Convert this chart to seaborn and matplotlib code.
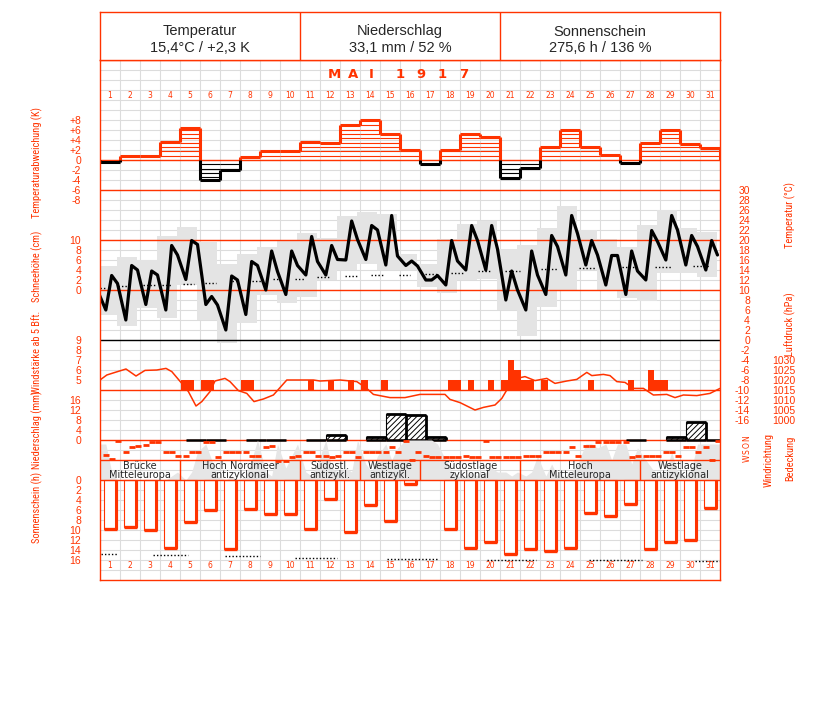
import numpy as np
import pandas as pd
import matplotlib
matplotlib.use('Agg')
import matplotlib.pyplot as plt
from matplotlib import font_manager
import seaborn as sns

sns.set_style('white')
plt.rcParams['font.family'] = ['Liberation Sans', 'DejaVu Sans']
plt.rcParams['hatch.linewidth'] = 0.7

RED = '#ff3300'
GRID = '#dcdcdc'
SHADE = '#e4e4e4'

days = np.arange(1, 32)

header_title = ['Temperatur', 'Niederschlag', 'Sonnenschein']
header_value = ['15,4°C / +2,3 K', '33,1 mm / 52 %', '275,6 h / 136 %']
month_label = 'MAI 1917'

# Tagesabweichung der Temperatur (K)
temp_anom = [-0.4, 0.8, 0.8, 3.6, 6.4, -4.0, -2.0, 0.6, 1.8, 1.8, 3.6, 3.4, 7.0, 8.0, 5.2, 2.0,
             -0.8, 2.0, 5.2, 4.6, -3.6, -1.6, 2.6, 6.0, 2.6, 1.0, -0.6, 3.4, 6.0, 3.2, 2.4]

# Terminwerte der Temperatur 7, 14, 21 Uhr (°C)
temp_prev = 9.9
temp_7 = [6.0, 4.0, 7.1, 6.0, 12.1, 7.1, 2.0, 5.1, 10.0, 9.1, 13.0, 13.0, 16.0, 16.1, 15.0, 14.9,
          12.0, 11.0, 14.0, 14.0, 8.0, 6.0, 9.1, 13.0, 15.0, 11.0, 9.1, 12.0, 16.0, 15.0, 14.0]
temp_14 = [12.9, 14.9, 13.8, 18.9, 19.9, 8.7, 12.8, 15.7, 17.8, 17.8, 20.7, 18.9, 23.8, 22.9, 24.9, 15.8,
           12.0, 19.9, 22.9, 22.9, 13.8, 17.8, 20.9, 24.9, 19.9, 16.9, 17.8, 21.9, 24.9, 20.9, 19.9]
temp_21 = [11.3, 14.0, 13.0, 17.0, 19.1, 7.0, 12.0, 14.9, 13.7, 14.9, 15.7, 16.1, 20.1, 22.0, 16.8, 14.8,
           12.9, 15.8, 19.9, 18.2, 10.0, 13.0, 18.7, 21.3, 17.0, 16.9, 13.8, 19.7, 22.0, 18.7, 17.0]
temp_max = [14.8, 16.7, 16.0, 20.8, 22.7, 19.7, 15.3, 17.3, 18.7, 19.8, 21.3, 20.5, 24.9, 25.7, 25.3, 17.3,
            15.2, 20.3, 23.3, 23.8, 18.3, 19.1, 22.5, 26.8, 22.0, 20.3, 18.7, 23.0, 26.0, 22.5, 21.7]
temp_min = [5.1, 2.9, 6.5, 4.5, 11.0, 4.0, -0.5, 3.4, 9.0, 7.5, 8.7, 12.0, 14.0, 15.3, 14.0, 14.0,
            10.7, 9.5, 12.0, 12.3, 6.0, 0.9, 6.7, 10.0, 14.0, 10.0, 8.5, 7.8, 13.5, 13.5, 12.7]

# Normalwerte (punktiert), Tag von/bis
norm_start = [0.0, 0.9, 2.15, 3.1, 4.15, 5.25, 6.6, 7.6, 8.65, 9.75, 10.85, 12.25, 13.55, 14.95, 16.25,
              17.55, 18.9, 20.25, 22.05, 23.95, 26.1, 27.75, 29.65]
norm_end = [0.3, 1.4, 2.75, 3.6, 4.7, 5.8, 6.85, 8.15, 8.9, 10.2, 11.5, 12.85, 14.2, 15.5, 16.9,
            18.2, 19.5, 21.0, 22.9, 24.8, 26.75, 28.6, 30.5]
norm_val = [10.5, 10.8, 11.0, 11.1, 11.3, 11.5, 11.8, 11.9, 12.2, 12.3, 12.6, 12.8, 13.0, 13.1, 13.3,
            13.5, 13.8, 13.9, 14.2, 14.4, 14.6, 14.7, 14.9]

# Luftdruck (hPa)
press_t = [0.0, 0.34, 0.75, 1.3, 1.8, 2.25, 2.84, 3.3, 3.59, 4.09, 4.42, 4.8, 5.09, 5.5, 5.75, 6.25,
           6.5, 6.92, 7.34, 7.7, 8.17, 8.67, 9.34, 10.67, 11.0, 12.0, 12.84, 13.34, 13.67, 14.5, 15.25,
           16.0, 17.25, 17.5, 18.0, 18.75, 19.17, 19.75, 20.09, 20.34, 20.84, 21.25, 21.75, 22.34,
           22.75, 23.34, 23.84, 24.34, 24.59, 25.17, 25.5, 25.84, 26.25, 26.67, 27.17, 27.67, 28.34,
           28.75, 29.17, 29.84, 30.5, 31.0]
press_hpa = [1020.0, 1022.5, 1023.8, 1025.5, 1022.0, 1024.8, 1025.0, 1025.8, 1024.2, 1018.3, 1014.2,
             1007.0, 1009.2, 1014.2, 1019.5, 1020.8, 1019.2, 1014.7, 1013.3, 1009.2, 1010.5, 1012.5,
             1020.0, 1020.0, 1019.5, 1020.0, 1019.2, 1015.8, 1012.8, 1011.2, 1011.2, 1012.8, 1012.8,
             1010.3, 1008.7, 1005.0, 1006.3, 1007.5, 1010.8, 1015.0, 1020.8, 1021.7, 1019.7, 1020.8,
             1018.3, 1019.5, 1020.3, 1023.8, 1022.2, 1022.8, 1022.2, 1019.2, 1018.8, 1015.8, 1015.8,
             1012.5, 1012.8, 1011.2, 1012.5, 1012.2, 1013.3, 1015.8]

# Windstärke ab 5 Bft (Tag, Termin 0/1/2, Bft)
wind_day = [5, 5, 6, 6, 8, 8, 11, 12, 13, 14, 15, 18, 18, 19, 20, 21, 21, 21, 22, 22, 23, 25, 27, 28, 28, 29]
wind_obs = [0, 1, 0, 1, 0, 1, 1, 1, 1, 0, 0, 1, 2, 1, 1, 0, 1, 2, 0, 1, 0, 1, 1, 1, 2, 0]
wind_bft = [5, 5, 5, 5, 5, 5, 5, 5, 5, 5, 5, 5, 5, 5, 5, 5, 7, 6, 5, 5, 5, 5, 5, 6, 5, 5]

# Niederschlag (mm), nan = kein, 0.0 = Spur
precip_mm = [np.nan, np.nan, np.nan, np.nan, 0.0, 0.0, np.nan, 0.0, 0.0, np.nan, 0.0, 2.1, np.nan, 1.2,
             10.2, 10.0, 1.1, np.nan, np.nan, np.nan, np.nan, np.nan, np.nan, np.nan, np.nan, np.nan,
             0.0, np.nan, 1.3, 7.2, 0.0]

# Windrichtung (Grad) 7, 14, 21 Uhr
wdir_7 = [247.5, 202.5, 67.5, 202.5, 270, 22.5, 202.5, 202.5, 112.5, 360, 202.5, 270, 202.5, 202.5, 202.5, 0,
          270, 292.5, 270, 0, 292.5, 270, 202.5, 202.5, 90, 22.5, 22.5, 270, 202.5, 112.5, 112.5]
wdir_14 = [315, 112.5, 22.5, 202.5, 202.5, 22.5, 202.5, 270, 90, 292.5, 202.5, 292.5, 202.5, 202.5, 112.5, 337.5,
           292.5, 292.5, 292.5, 292.5, 292.5, 270, 202.5, 112.5, 90, 22.5, 292.5, 270, 202.5, 112.5, 337.5]
wdir_21 = [0, 90, 22.5, 270, 202.5, 292.5, 202.5, 270, 360, 270, 270, 270, 292.5, 202.5, 202.5, 202.5,
           292.5, 292.5, 292.5, 292.5, 292.5, 270, 202.5, 270, 22.5, 22.5, 270, 270, 270, 202.5, 0]

# Bedeckung (Zehntel) 7, 14, 21 Uhr
cloud_7 = [9, 0, 0, 0, 0, 9, 0, 1, 2, 3, 2, 10, 3, 4, 9, 10, 10, 5, 1, 2, 2, 1, 1, 1, 9, 9, 9, 5, 2, 1, 9]
cloud_14 = [2, 0, 0, 1, 2, 5, 1, 5, 1, 6, 1, 3, 2, 2, 5, 10, 10, 2, 2, 3, 1, 2, 4, 2, 9, 5, 4, 3, 7, 3, 9]
cloud_21 = [0, 0, 0, 2, 7, 1, 0, 10, 9, 9, 4, 2, 10, 6, 8, 10, 9, 1, 1, 2, 2, 6, 1, 4, 8, 9, 8, 1, 2, 9, 9]

# Sonnenschein (h) und astronomisch mögliche Dauer (punktiert)
sun_h = [9.7, 9.3, 9.9, 13.5, 8.3, 6.0, 13.7, 5.7, 6.7, 6.7, 9.7, 3.7, 10.3, 5.0, 8.1, 0.7,
         0.0, 9.7, 13.5, 12.3, 14.7, 13.8, 14.1, 13.5, 6.5, 7.1, 4.7, 13.7, 12.3, 12.0, 5.5]
sunpos_start = [0.05, 2.65, 6.25, 9.75, 14.35, 19.35, 24.45, 29.75]
sunpos_end = [0.9, 4.4, 8.0, 11.85, 16.85, 21.8, 27.1, 31.0]
sunpos_h = [14.8, 15.0, 15.2, 15.5, 15.7, 15.9, 16.0, 16.1]

# Großwetterlagen
wx_start = [0, 4, 10, 13, 16, 21, 27]
wx_end = [4, 10, 13, 16, 21, 27, 31]
wx_label = ['Brücke\nMitteleuropa', 'Hoch Nordmeer\nantizyklonal', 'Südostl.\nantizykl.',
            'Westlage\nantizykl.', 'Südostlage\nzyklonal', 'Hoch\nMitteleuropa', 'Westlage\nantizyklonal']

left_labels = ['Temperaturabweichung (K)', 'Schneehöhe (cm)', 'Windstärke ab 5 Bft.',
               'Niederschlag (mm)', 'Sonnenschein (h)']
right_labels = ['Temperatur (°C)', 'Luftdruck (hPa)', 'Windrichtung', 'Bedeckung']

# a condensed face for the rotated axis titles, if one is installed
installed = {f.name for f in font_manager.fontManager.ttflist}
narrow_fam = next((n for n in ['Liberation Sans Narrow', 'DejaVu Sans Condensed', 'Roboto Condensed',
                               'Open Sans Condensed', 'Noto Sans Condensed'] if n in installed), None)
if narrow_fam:
    title_font = dict(family=[narrow_fam, 'DejaVu Sans'], fontsize=7.5)
else:
    title_font = dict(family=['Liberation Sans', 'DejaVu Sans'], fontsize=6)

W, H = 827, 702
fig = plt.figure(figsize=(W / 100, H / 100), dpi=100)


def rect(x0, y0, x1, y1):
    return [x0 / W, 1 - y1 / H, (x1 - x0) / W, (y1 - y0) / H]


def overlay(scale):
    # every panel shares the same pixel box; scale maps pixel row -> value
    ax = fig.add_axes(rect(100, 60, 720, 580))
    ax.set_xlim(0, 31)
    ax.set_ylim(scale(580), scale(60))
    ax.patch.set_visible(False)
    for s in ax.spines.values():
        s.set_visible(False)
    ax.set_xticks([])
    ax.set_yticks([])
    ax.tick_params(axis='y', length=0, labelsize=7.5, labelcolor=RED, pad=13.5)
    return ax


def right_ticks(ax, ticks, labels, pad):
    ax.yaxis.tick_right()
    ax.set_yticks(ticks, labels=labels, ha='right')
    ax.tick_params(axis='y', length=0, labelsize=7.5, labelcolor=RED, pad=pad)


obs = np.array([7, 14, 21]) / 24

# grid
bg = overlay(lambda y: y)
bg.vlines(np.arange(1, 31), 60, 580, color=GRID, lw=0.8)
bg.hlines(np.arange(70, 580, 10), 0, 31, color=GRID, lw=0.8)

# temperature anomaly
ta = overlay(lambda y: (160 - y) / 5)
ta.axhline(0, color=RED, lw=1)
ta.axhline(-6, color=RED, lw=1)
step = 0.87
for i, v in enumerate(temp_anom):
    c = RED if v >= 0 else 'black'
    lev = np.arange(step, abs(v) - 0.2, step) * np.sign(v)
    ta.hlines(lev, i, i + 1, color=c, lw=0.8)
    ta.hlines(v, i, i + 1, color=c, lw=2.2)
bounds = [0.0] + temp_anom + [0.0]
for i in range(32):
    lo, hi = sorted((bounds[i], bounds[i + 1]))
    if hi > 0:
        ta.vlines(i, max(lo, 0), hi, color=RED, lw=2.2)
    if lo < 0:
        ta.vlines(i, lo, min(hi, 0), color='black', lw=2.2)
ta.set_yticks(np.arange(8, -9, -2), labels=['+8', '+6', '+4', '+2', '0', '-2', '-4', '-6', '-8'])

# temperature
tp = overlay(lambda y: (340 - y) / 5)
tmin = np.array(temp_min)
tmax = np.array(temp_max)
tp.bar(days - 1 - 1 / 6, tmax - tmin, bottom=tmin, width=1, align='edge', color=SHADE, lw=0)
tp.axhline(20, color=RED, lw=1)
tp.axhline(10, color=RED, lw=1)
tp.axhline(0, color='black', lw=1)
tp.hlines(norm_val, norm_start, norm_end, colors='black', linestyles=(0, (1, 1.5)), lw=1)
tdf = pd.DataFrame({
    't': np.concatenate([[-3 / 24], (days[:, None] - 1 + obs).ravel()]),
    'temp': np.concatenate([[temp_prev], np.column_stack([temp_7, temp_14, temp_21]).ravel()]),
})
sns.lineplot(data=tdf, x='t', y='temp', ax=tp, color='black', lw=2.3, sort=False)
tp.set_xlabel('')
tp.set_ylabel('')
tp.set_xlim(0, 31)
right_ticks(tp, np.arange(30, -17, -2), [str(v) for v in range(30, -17, -2)], 21.6)

# snow depth (ticks only)
sn = overlay(lambda y: (290 - y) / 5)
sn.set_yticks(np.arange(10, -1, -2), labels=[str(v) for v in range(10, -1, -2)])

# air pressure
pr = overlay(lambda y: 1015 + (390 - y) / 2)
pdf = pd.DataFrame({'t': press_t, 'p': press_hpa})
sns.lineplot(data=pdf, x='t', y='p', ax=pr, color=RED, lw=1.1)
pr.set_xlabel('')
pr.set_ylabel('')
pr.set_xlim(0, 31)
right_ticks(pr, np.arange(1030, 999, -5), [str(v) for v in range(1030, 999, -5)], 54)

# wind force
wn = overlay(lambda y: 4 + (390 - y) / 10)
wleft = np.array(wind_day) - 1 + np.array([0.05, 0.383, 0.717])[wind_obs]
wn.bar(wleft, np.array(wind_bft) - 4, bottom=4, width=1 / 3, align='edge', color=RED, lw=0)
wn.axhline(4, color=RED, lw=1)
wn.set_yticks(np.arange(9, 4, -1), labels=[str(v) for v in range(9, 4, -1)])

# precipitation
rr = overlay(lambda y: (440 - y) / 2.5)
pv = np.array(precip_mm)
pleft = days - 1 + 7 / 24
wet = pv > 0
seen = ~np.isnan(pv)
rr.axhline(0, color=RED, lw=1)
rr.bar(pleft[wet], pv[wet], width=1, align='edge', facecolor='white', edgecolor='black',
       hatch='//////', lw=0.8)
rr.hlines(pv[wet], pleft[wet], pleft[wet] + 1, color='black', lw=2)
rr.vlines(pleft[wet] + 1, 0, pv[wet], color='black', lw=2)
rr.hlines(np.zeros(seen.sum()), pleft[seen], pleft[seen] + 1, color='black', lw=1.8)
rr.set_yticks(np.arange(16, -1, -4), labels=[str(v) for v in range(16, -1, -4)])

# cloud cover
cl = overlay(lambda y: (480 - y) / 4)
ct = (days[:, None] - 1 + obs).ravel()
cv = np.column_stack([cloud_7, cloud_14, cloud_21]).ravel()
cl.fill_between(np.concatenate([[0], ct, [31]]), np.concatenate([[cv[0]], cv, [cv[-1]]]), 0,
                color='#e6e6e6', lw=0)

# wind direction
wd = overlay(lambda y: (y - 441) * 18)
dv = np.column_stack([wdir_7, wdir_14, wdir_21]).ravel()
wd.plot(ct, dv, ls='none', marker='_', ms=4, mew=2, color=RED)

# sunshine
su = overlay(lambda y: (y - 480) / 5)
sh = np.array(sun_h)
sleft = days - 1 + 0.2
sw = 0.635
sunny = sh > 0
su.bar(sleft[sunny], sh[sunny], width=sw, align='edge', facecolor='white', edgecolor=RED, lw=0.8)
su.vlines(sleft[sunny] + sw - 0.04, 0, sh[sunny], color=RED, lw=2.2)
su.hlines(sh[sunny], sleft[sunny], sleft[sunny] + sw, color=RED, lw=2.4)
su.hlines(sunpos_h, sunpos_start, sunpos_end, colors='black', linestyles=(0, (1, 1.5)), lw=1)
su.set_yticks(np.arange(0, 17, 2), labels=[str(v) for v in range(0, 17, 2)])

# frame, weather types, day numbers
top = overlay(lambda y: y)
for s in top.spines.values():
    s.set_visible(True)
    s.set_color(RED)
    s.set_linewidth(1)
top.axhline(460, color=RED, lw=1)
top.axhline(480, color=RED, lw=1)
top.vlines(wx_start[1:], 460, 480, color=RED, lw=1)
for s, e, lab in zip(wx_start, wx_end, wx_label):
    top.text((s + e) / 2, 470.5, lab, ha='center', va='center', fontsize=7, linespacing=0.95,
             family='DejaVu Sans')
for d in days:
    top.text(d - 0.5, 95.5, str(d), ha='center', va='center', fontsize=5.5, color=RED,
             family='DejaVu Sans')
    top.text(d - 0.5, 565.5, str(d), ha='center', va='center', fontsize=5.5, color=RED,
             family='DejaVu Sans')
for ch, xd in zip(month_label.replace(' ', ''), [11.7, 12.65, 13.55, 15.0, 16.05, 17.1, 18.2]):
    top.text(xd, 75, ch, ha='center', va='center', fontsize=9.5, fontweight='bold', color=RED,
             family='DejaVu Sans')

# header
hd = fig.add_axes(rect(100, 12, 720, 60))
hd.set_xlim(0, 31)
hd.set_ylim(60, 12)
hd.set_xticks([])
hd.set_yticks([])
for s in hd.spines.values():
    s.set_color(RED)
    s.set_linewidth(1)
hd.vlines([10, 20], 12, 60, color=RED, lw=1)
for xc, t1, t2 in zip([5, 15, 25], header_title, header_value):
    hd.text(xc, 31.5, t1, ha='center', va='center', fontsize=10.5)
    hd.text(xc, 47.5, t2, ha='center', va='center', fontsize=10.5)

# axis titles
for lab, yc in zip(left_labels, [162, 266, 352, 430, 507]):
    fig.text(37 / W, 1 - yc / H, lab, rotation=90, ha='center', va='center', color=RED, **title_font)
for lab, (xc, yc) in zip(right_labels, [(790, 215), (790, 324), (769, 460), (790, 458)]):
    fig.text(xc / W, 1 - yc / H, lab, rotation=90, ha='center', va='center', color=RED, **title_font)
for ch, yc in zip(['N', 'O', 'S', 'W'], [438.5, 445, 451.5, 458]):
    fig.text(747 / W, 1 - yc / H, ch, rotation=90, ha='center', va='center', fontsize=5.5,
             color=RED, family='DejaVu Sans')

fig.savefig('out.png', dpi=100)
